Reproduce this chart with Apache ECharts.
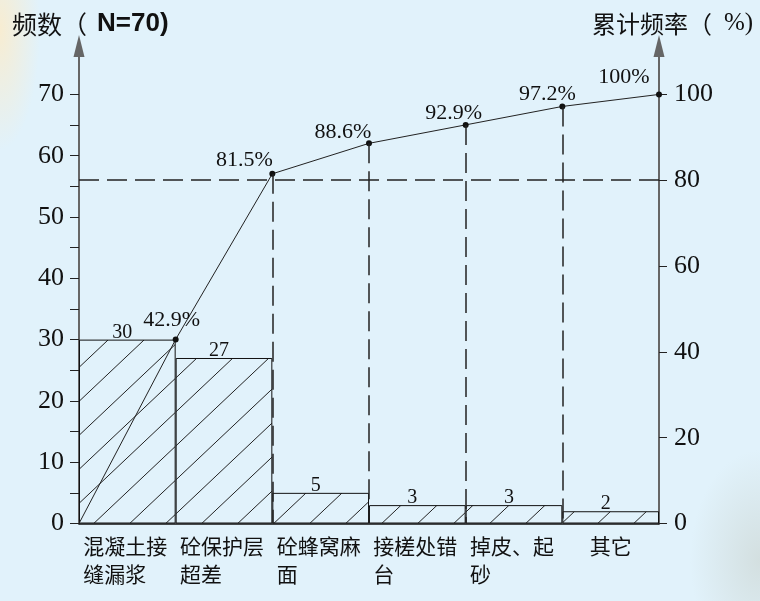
<!DOCTYPE html>
<html>
<head>
<meta charset="utf-8">
<script src="https://cdn.jsdelivr.net/npm/echarts@6/dist/echarts.min.js"></script>
<style>
html,body{margin:0;padding:0;background:#e1f2fb;}
#wrap{width:760px;height:601px;position:relative;
  background:
    radial-gradient(ellipse 40px 120px at 0px 30px, rgba(250,236,205,0.9), rgba(250,236,205,0) 100%),
    radial-gradient(ellipse 70px 110px at 760px 560px, rgba(205,215,212,0.7), rgba(205,215,212,0) 100%),
    #e1f2fb;}
#chart{width:760px;height:601px;}
</style>
</head>
<body>
<div id="wrap"><div id="chart"></div></div>
<script>
// ---- data ----
const categories = ['混凝土接\n缝漏浆', '砼保护层\n超差', '砼蜂窝麻\n面', '接槎处错\n台', '掉皮、起\n砂', '其它'];
const counts = [30, 27, 5, 3, 3, 2];
const cumulative = [0, 42.9, 81.5, 88.6, 92.9, 97.2, 100];
const leftTickValues = [0, 5, 10, 15, 20, 25, 30, 35, 40, 45, 50, 55, 60, 65, 70];
const leftLabelValues = [0, 10, 20, 30, 40, 50, 60, 70];
const rightLabelValues = [0, 20, 40, 60, 80, 100];
const thresholdPct = 80;
const leftTitle = '频数（';
const leftTitleN = 'N=70)';
const rightTitle = '累计频率（';
const rightTitleUnit = '%)';

// ---- styles ----
const LMAX = 77.9;
const RMAX = LMAX / 70 * 100;
const labelShift = [[0, 0], [-4, 0], [-28, 5], [-26, 8], [-12, 7], [-15, 7], [-35, 2]];
const serif = '"Liberation Serif", "DejaVu Serif", serif';
const cjk = '"Noto Sans CJK SC", sans-serif';

function hatch() {
  const c = document.createElement('canvas');
  c.width = 36; c.height = 34;
  const g = c.getContext('2d');
  g.strokeStyle = '#222';
  g.lineWidth = 1;
  g.beginPath();
  g.moveTo(-3, 34 + 3 * 34 / 36);
  g.lineTo(39, -3 * 34 / 36);
  g.stroke();
  return c;
}

const chart = echarts.init(document.getElementById('chart'), null, {renderer: 'canvas'});
const dash = [20, 8];

const vLines = [];
for (let i = 2; i <= 5; i++) {
  vLines.push([{coord: [i, cumulative[i]]}, {coord: [i, 0]}]);
}

chart.setOption({
  backgroundColor: 'transparent',
  animation: false,
  title: [
    {
      text: '{a|' + leftTitle + '}{b|' + leftTitleN + '}',
      left: 7, top: 6,
      textStyle: {
        fontWeight: 'normal',
        rich: {
          a: {fontFamily: cjk, fontSize: 25, fontWeight: 'normal', color: '#111'},
          b: {fontFamily: '"Liberation Sans", Arial, sans-serif', fontSize: 26, fontWeight: 'bold', color: '#111', padding: [0, 0, 0, 10]}
        }
      }
    },
    {
      text: '{a|' + rightTitle + '}{b|' + rightTitleUnit + '}',
      left: 587, top: 6,
      textStyle: {
        fontWeight: 'normal',
        rich: {
          a: {fontFamily: cjk, fontSize: 24, fontWeight: 'normal', color: '#111'},
          b: {fontFamily: serif, fontSize: 25, fontWeight: 'normal', color: '#111', padding: [0, 0, 0, 12]}
        }
      }
    }
  ],
  grid: {left: 79, right: 101, top: 46, bottom: 77.5, outerBoundsMode: 'none', containLabel: false},
  xAxis: [
    {
      type: 'category',
      data: categories,
      position: 'bottom',
      boundaryGap: true,
      axisLine: {show: true, lineStyle: {color: '#111', width: 1.5}},
      axisTick: {show: false},
      splitLine: {show: false},
      axisLabel: {
        show: true, interval: 0, margin: 9,
        fontFamily: cjk, fontSize: 21, color: '#111', lineHeight: 28,
        formatter: function (v) {
          if (v.indexOf('\n') < 0) return v;
          return v.split('\n').map(s => '{m|' + s + '}').join('\n');
        },
        rich: {m: {width: 88, align: 'left', fontFamily: cjk, fontSize: 21, lineHeight: 28, color: '#111'}}
      }
    },
    {
      type: 'value', min: 0, max: categories.length, show: false, position: 'bottom'
    }
  ],
  yAxis: [
    {
      type: 'value', min: 0, max: LMAX, position: 'left',
      axisLine: {show: true, symbol: ['none', 'triangle'], symbolSize: [11, 22], lineStyle: {color: '#666', width: 2}},
      axisTick: {show: true, length: 9, customValues: leftTickValues, lineStyle: {color: '#222', width: 1}},
      axisLabel: {show: true, margin: 15, customValues: leftLabelValues, fontFamily: serif, fontSize: 26, color: '#111'},
      splitLine: {show: false}
    },
    {
      type: 'value', min: 0, max: RMAX, position: 'right',
      axisLine: {show: true, symbol: ['none', 'triangle'], symbolSize: [11, 22], lineStyle: {color: '#666', width: 2}},
      axisTick: {show: true, length: 8, customValues: rightLabelValues, lineStyle: {color: '#222', width: 1}},
      axisLabel: {show: true, margin: 15, customValues: rightLabelValues, fontFamily: serif, fontSize: 26, color: '#111'},
      splitLine: {show: false}
    }
  ],
  series: [
    {
      type: 'bar',
      xAxisIndex: 0, yAxisIndex: 0,
      data: counts,
      barCategoryGap: 0, barGap: 0,
      itemStyle: {color: {image: hatch(), repeat: 'repeat'}, borderColor: '#111', borderWidth: 1},
      label: {show: true, position: 'top', distance: 0, offset: [-5, 3], fontFamily: serif, fontSize: 20, color: '#111'},
      z: 2
    },
    {
      type: 'line',
      xAxisIndex: 1, yAxisIndex: 1,
      data: cumulative.map((v, i) => ({
        value: [i, v],
        symbol: i === 0 ? 'none' : 'circle',
        label: {offset: labelShift[i]}
      })),
      symbolSize: 6,
      lineStyle: {color: '#222', width: 1},
      itemStyle: {color: '#111'},
      label: {
        show: true, position: 'top', distance: 5,
        fontFamily: serif, fontSize: 22, color: '#111',
        formatter: p => p.value[1] === 0 ? '' : p.value[1] + '%'
      },
      markLine: {
        silent: true,
        symbol: ['none', 'none'],
        label: {show: false},
        lineStyle: {color: '#222', width: 1.5, type: dash},
        data: [{yAxis: thresholdPct}].concat(vLines)
      },
      z: 3
    }
  ]
});
</script>
</body>
</html>
